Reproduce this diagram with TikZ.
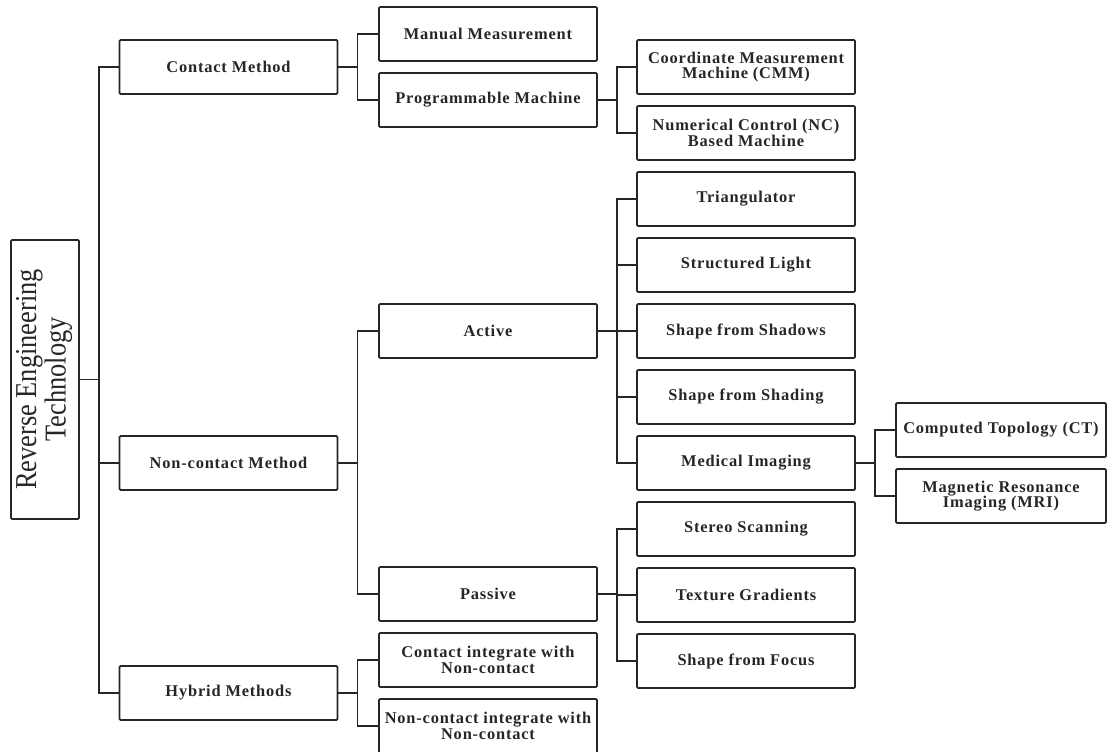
\documentclass[tikz,border=0pt]{standalone}
\usepackage{fontspec}
\setmainfont{Liberation Serif}
\newfontfamily\boxfont[LetterSpace=5]{Liberation Serif}
\usetikzlibrary{positioning}

\begin{document}
\begin{tikzpicture}[
    x=0.5pt, y=-0.5pt,
    node distance=6pt,
    block/.style={rectangle, draw=black!85, line width=0.9pt, rounded corners=0.6pt, outer sep=0pt, minimum width=109pt, minimum height=27pt, inner sep=2pt, align=center, text=black!85, font=\boxfont\bfseries\fontsize{8.2}{7.8}\selectfont},
    link/.style={draw=black!85, line width=0.95pt}
]
\useasboundingbox (0,0) rectangle (1107,751);

% Root
\node[block, minimum width=34pt, minimum height=139.5pt, font=\fontsize{13.2}{12.2}\selectfont] (ret) at (45,379.5)
    {\rotatebox{90}{\scalebox{1}[1.15]{\begin{tabular}{@{}c@{}}Reverse Engineering\\Technology\end{tabular}}}};

% Methods
\node[block] (contact) at (228.5,67) {Contact Method};
\node[block] (noncontact) at (228.5,463) {Non-contact Method};
\node[block] (hybrid) at (228.5,693) {Hybrid Methods};

% Contact branch
\node[block] (manual) at (488,34) {Manual Measurement};
\node[block, below=of manual] (prog) {Programmable Machine};
\node[block] (cmm) at (746,67) {Coordinate Measurement\\Machine (CMM)};
\node[block, below=of cmm] (nc) {Numerical Control (NC)\\Based Machine};

% Non-contact branch
\node[block] (active) at (488,331) {Active};
\node[block] (passive) at (488,594) {Passive};
\node[block] (tri) at (746,199) {Triangulator};
\node[block, below=of tri] (light) {Structured Light};
\node[block, below=of light] (shadows) {Shape from Shadows};
\node[block, below=of shadows] (shading) {Shape from Shading};
\node[block, below=of shading] (medical) {Medical Imaging};
\node[block, below=of medical] (stereo) {Stereo Scanning};
\node[block, below=of stereo] (texture) {Texture Gradients};
\node[block, below=of texture] (focus) {Shape from Focus};
\node[block, minimum width=105pt] (ct) at (1001,430) {Computed Topology (CT)};
\node[block, minimum width=105pt, below=of ct] (mri) {Magnetic Resonance\\Imaging (MRI)};

% Hybrid branch
\node[block] (cwn) at (488,660) {Contact integrate with\\Non-contact};
\node[block, below=of cwn] (nwn) {Non-contact integrate with\\Non-contact};

% Connections
\draw[link] (ret.east) -- ++(10pt,0) |- (contact.west);
\draw[link] (ret.east) -- ++(10pt,0) |- (noncontact.west);
\draw[link] (ret.east) -- ++(10pt,0) |- (hybrid.west);

\draw[link] (contact.east) -- ++(10pt,0) |- (manual.west);
\draw[link] (contact.east) -- ++(10pt,0) |- (prog.west);
\draw[link] (prog.east) -- ++(10pt,0) |- (cmm.west);
\draw[link] (prog.east) -- ++(10pt,0) |- (nc.west);

\draw[link] (noncontact.east) -- ++(10pt,0) |- (active.west);
\draw[link] (noncontact.east) -- ++(10pt,0) |- (passive.west);
\draw[link] (active.east) -- ++(10pt,0) |- (tri.west);
\draw[link] (active.east) -- ++(10pt,0) |- (light.west);
\draw[link] (active.east) -- ++(10pt,0) |- (shadows.west);
\draw[link] (active.east) -- ++(10pt,0) |- (shading.west);
\draw[link] (active.east) -- ++(10pt,0) |- (medical.west);
\draw[link] (passive.east) -- ++(10pt,0) |- (stereo.west);
\draw[link] (passive.east) -- ++(10pt,0) |- (texture.west);
\draw[link] (passive.east) -- ++(10pt,0) |- (focus.west);
\draw[link] (medical.east) -- ++(10pt,0) |- (ct.west);
\draw[link] (medical.east) -- ++(10pt,0) |- (mri.west);

\draw[link] (hybrid.east) -- ++(10pt,0) |- (cwn.west);
\draw[link] (hybrid.east) -- ++(10pt,0) |- (nwn.west);

\end{tikzpicture}
\end{document}
